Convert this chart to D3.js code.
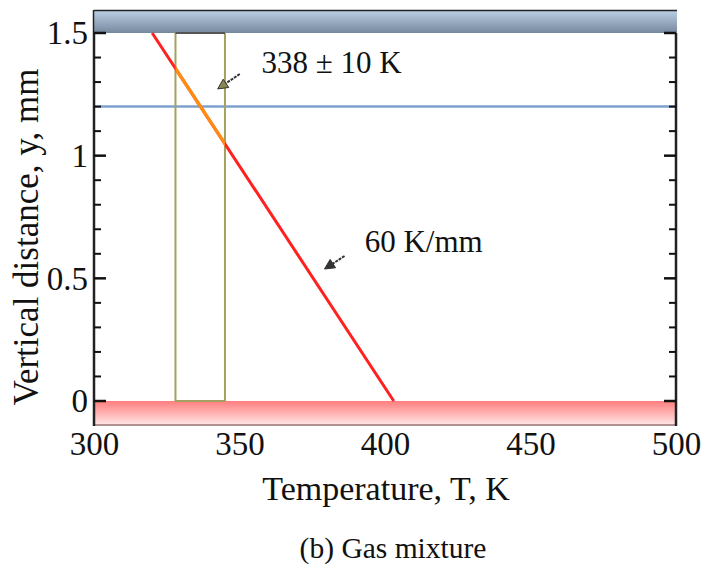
<!DOCTYPE html>
<html>
<head>
<meta charset="utf-8">
<script src="https://cdn.jsdelivr.net/npm/d3@7"></script>
<style>
  html, body { margin: 0; padding: 0; background: #fff; }
</style>
</head>
<body>
<svg id="chart" width="707" height="572"></svg>
<script>
// Temperature profile across the gas-mixture layer
const xTicks = [300, 350, 400, 450, 500];
const yTicks = [0, 0.5, 1, 1.5];
const yMinorTicks = [0.1, 0.2, 0.3, 0.4, 0.6, 0.7, 0.8, 0.9, 1.1, 1.2, 1.3, 1.4];
const profileT = [320, 403];        // K
const profileY = [1.5, 0];          // mm
const windowT = [328, 345];         // K, highlighted temperature window
const levelY = 1.2;                 // mm, reference height
const gradientLabel = "60 K/mm";
const windowLabel = "338 ± 10 K";

const FONT = "'Liberation Serif', 'Times New Roman', serif";
const svg = d3.select("#chart");
const pLeft = 94, pRight = 676, pTop = 33, pBottom = 401;
const x = d3.scaleLinear().domain([300, 500]).range([pLeft, pRight]);
const y = d3.scaleLinear().domain([0, 1.5]).range([pBottom, pTop]);

const defs = svg.append("defs");
const gTop = defs.append("linearGradient").attr("id", "topBand").attr("x1", 0).attr("y1", 0).attr("x2", 0).attr("y2", 1);
gTop.append("stop").attr("offset", "0%").attr("stop-color", "#bcd0e8");
gTop.append("stop").attr("offset", "100%").attr("stop-color", "#76889c");
const gBot = defs.append("linearGradient").attr("id", "botBand").attr("x1", 0).attr("y1", 0).attr("x2", 0).attr("y2", 1);
gBot.append("stop").attr("offset", "0%").attr("stop-color", "#ff7e7e");
gBot.append("stop").attr("offset", "100%").attr("stop-color", "#ffe6e6");
defs.append("clipPath").attr("id", "winClip")
  .append("rect")
  .attr("x", x(windowT[0])).attr("y", y(1.5))
  .attr("width", x(windowT[1]) - x(windowT[0])).attr("height", y(0) - y(1.5));

// Top (cold plate) and bottom (hot plate) bands
svg.append("rect").attr("x", pLeft).attr("y", 10).attr("width", pRight - pLeft + 1).attr("height", pTop - 10)
  .attr("fill", "url(#topBand)");
svg.append("line").attr("x1", pLeft).attr("x2", pRight + 1).attr("y1", 10.5).attr("y2", 10.5)
  .attr("stroke", "#222").attr("stroke-width", 1.5);
svg.append("line").attr("x1", pLeft - 0.5).attr("x2", pLeft - 0.5).attr("y1", 10).attr("y2", pTop)
  .attr("stroke", "#222").attr("stroke-width", 1.5);

svg.append("rect").attr("x", pLeft).attr("y", pBottom).attr("width", pRight - pLeft + 1).attr("height", 24)
  .attr("fill", "url(#botBand)");
svg.append("line").attr("x1", pLeft).attr("x2", pRight + 1).attr("y1", 425).attr("y2", 425)
  .attr("stroke", "#b09090").attr("stroke-width", 2);

// Reference height line
svg.append("line").attr("x1", pLeft).attr("x2", pRight).attr("y1", y(levelY)).attr("y2", y(levelY))
  .attr("stroke", "#7ea0cc").attr("stroke-width", 2.5);

// Temperature window rectangle
svg.append("rect")
  .attr("x", x(windowT[0])).attr("y", y(1.5))
  .attr("width", x(windowT[1]) - x(windowT[0])).attr("height", y(0) - y(1.5))
  .attr("fill", "none").attr("stroke", "#a4a060").attr("stroke-width", 2);
svg.append("line").attr("x1", x(windowT[0])).attr("x2", x(windowT[1])).attr("y1", y(1.5)).attr("y2", y(1.5))
  .attr("stroke", "#555").attr("stroke-width", 2);

// Linear temperature profile
const pts = profileT.map((t, i) => [t, profileY[i]]);
const line = d3.line().x(d => x(d[0])).y(d => y(d[1]));
svg.append("path").datum(pts).attr("d", line).attr("fill", "none")
  .attr("stroke", "#ff2020").attr("stroke-width", 3);
svg.append("path").datum(pts).attr("d", line).attr("fill", "none")
  .attr("stroke", "#ff8c10").attr("stroke-width", 3.2).attr("clip-path", "url(#winClip)");

// Axes
const yAxisL = d3.axisLeft(y).tickValues(yTicks).tickSize(0).tickPadding(6).tickFormat(d3.format("~g"));
const gL = svg.append("g").attr("transform", `translate(${pLeft},0)`).call(yAxisL);
gL.select(".domain").remove();
gL.selectAll("text").attr("font-size", 33).attr("dy", "0.33em");

function frameTicks(xPos, dir) {
  const g = svg.append("g");
  g.append("line").attr("x1", xPos).attr("x2", xPos).attr("y1", pTop).attr("y2", 426)
    .attr("stroke", "#222").attr("stroke-width", 2.5);
  g.selectAll(".maj").data(yTicks).join("line")
    .attr("x1", xPos).attr("x2", xPos + dir * 12)
    .attr("y1", d => y(d)).attr("y2", d => y(d))
    .attr("stroke", "#111").attr("stroke-width", 2.5);
  g.selectAll(".min").data(yMinorTicks).join("line")
    .attr("x1", xPos).attr("x2", xPos + dir * 7)
    .attr("y1", d => y(d)).attr("y2", d => y(d))
    .attr("stroke", "#111").attr("stroke-width", 2);
}
frameTicks(pLeft, 1);
frameTicks(pRight, -1);

const xAxis = d3.axisBottom(x).tickValues(xTicks).tickSize(0).tickPadding(0);
const gX = svg.append("g").attr("transform", `translate(0,${427})`).call(xAxis);
gX.select(".domain").remove();
gX.selectAll("text").attr("font-size", 33).attr("dy", "0").attr("y", 28);

// Axis titles
svg.append("text").attr("x", 386).attr("y", 500).attr("text-anchor", "middle")
  .attr("font-size", 34).text("Temperature, T, K");
svg.append("text").attr("transform", "translate(38,237) rotate(-90)").attr("text-anchor", "middle")
  .attr("font-size", 35).text("Vertical distance, y, mm");
svg.append("text").attr("x", 393).attr("y", 558).attr("text-anchor", "middle")
  .attr("font-size", 29.5).text("(b) Gas mixture");

// Annotations
function arrow(t0, y0, t1, y1, headFill) {
  const x0 = x(t0), yy0 = y(y0), x1 = x(t1), yy1 = y(y1);
  const ang = Math.atan2(yy1 - yy0, x1 - x0);
  const L = 10, W = 5;
  const bx = x1 - L * Math.cos(ang), by = yy1 - L * Math.sin(ang);
  svg.append("line").attr("x1", x0).attr("y1", yy0).attr("x2", bx).attr("y2", by)
    .attr("stroke", "#333").attr("stroke-width", 2).attr("stroke-dasharray", "3,1");
  const px = -Math.sin(ang) * W, py = Math.cos(ang) * W;
  svg.append("path")
    .attr("d", `M${x1},${yy1}L${bx + px},${by + py}L${bx - px},${by - py}Z`)
    .attr("fill", headFill).attr("stroke", "#333").attr("stroke-width", 1);
}
arrow(350.1, 1.333, 342.5, 1.272, "#8a8650");
arrow(386.1, 0.591, 379.2, 0.538, "#333");

svg.append("text").attr("x", x(357.6)).attr("y", 73).attr("font-size", 31).text(windowLabel);
svg.append("text").attr("x", x(393)).attr("y", 252).attr("font-size", 31).text(gradientLabel);

// One serif face for every label
svg.selectAll("text").style("font-family", FONT).attr("fill", "#111");
</script>
</body>
</html>
